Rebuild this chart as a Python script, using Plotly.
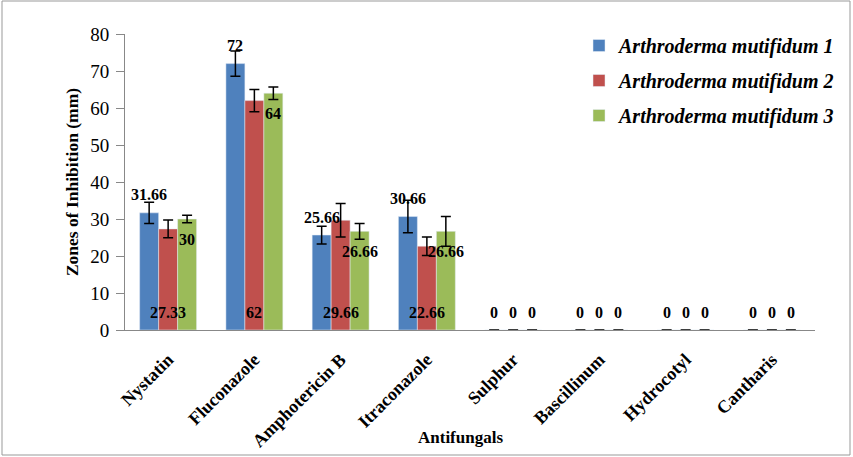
import plotly.graph_objects as go

categories = ["Nystatin", "Fluconazole", "Amphotericin B", "Itraconazole",
              "Sulphur", "Bascillinum", "Hydrocotyl", "Cantharis"]
series_names = ["Arthroderma mutifidum 1", "Arthroderma mutifidum 2", "Arthroderma mutifidum 3"]
values_1 = [31.66, 72, 25.66, 30.66, 0, 0, 0, 0]
values_2 = [27.33, 62, 29.66, 22.66, 0, 0, 0, 0]
values_3 = [30, 64, 26.66, 26.66, 0, 0, 0, 0]
errors_1 = [2.9, 3.4, 2.4, 4.4, 0, 0, 0, 0]
errors_2 = [2.4, 3.0, 4.5, 2.5, 0, 0, 0, 0]
errors_3 = [1.0, 1.7, 2.1, 4.0, 0, 0, 0, 0]
colors = ["#4F81BD", "#C0504D", "#9BBB59"]

W, H = 853, 457
ML, MR, MT, MB = 125, 38, 34, 127
pw, ph = W - ML - MR, H - MT - MB

fig = go.Figure()
for name, vals, errs, col in zip(series_names, [values_1, values_2, values_3],
                                 [errors_1, errors_2, errors_3], colors):
    fig.add_trace(go.Bar(
        x=categories, y=vals, name=name, marker_color=col,
        legendgroup=name,
        error_y=dict(type="data", array=errs, visible=True, color="black",
                     thickness=1.5, width=5),
    ))

serif = "'Liberation Serif', 'Times New Roman', serif"
lab_font = dict(family=serif, size=16, color="black", weight="bold")
annotations = []
bw = pw / len(categories) * (1 - 0.34) / 3
for i, c in enumerate(categories):
    # series 1: above bar
    annotations.append(dict(x=c, y=values_1[i], text=f"{values_1[i]:g}",
                            xshift=-bw, yshift=18, yanchor="middle", showarrow=False, font=lab_font))
    # series 2: near base
    annotations.append(dict(x=c, y=0, text=f"{values_2[i]:g}",
                            xshift=0, yshift=18, yanchor="middle", showarrow=False, font=lab_font))
    # series 3: inside end
    v = values_3[i]
    annotations.append(dict(x=c, y=v, text=f"{v:g}",
                            xshift=bw, yshift=(-20 if v > 0 else 18), yanchor="middle",
                            showarrow=False, font=lab_font))

# x-axis title
annotations.append(dict(xref="paper", yref="paper", x=(460 - ML) / pw, y=(MT + ph - 437) / ph,
                        text="Antifungals", showarrow=False, xanchor="center", yanchor="middle",
                        font=dict(family=serif, size=17, color="black", weight="bold")))

fig.update_layout(
    width=W, height=H,
    margin=dict(l=ML, r=MR, t=MT, b=MB, autoexpand=False),
    paper_bgcolor="white", plot_bgcolor="white",
    barmode="group", bargap=0.34, bargroupgap=0,
    font=dict(family=serif, size=17, color="black"),
    annotations=annotations,
    legend=dict(x=0.658, y=1.027, xanchor="left", yanchor="top",
                font=dict(family=serif, size=20, color="black", style="italic", weight="bold"),
                tracegroupgap=6, bgcolor="rgba(0,0,0,0)"),
    xaxis=dict(tickangle=-45, tickfont=dict(family=serif, size=18, weight="bold"),
               ticklabelstandoff=11,
               showline=True, linecolor="#888888", linewidth=1, ticks="", showgrid=False,
               automargin=False),
    yaxis=dict(title=dict(text="Zones of Inhibition (mm)", font=dict(family=serif, size=17.5, weight="bold"), standoff=7),
               range=[0, 80], dtick=10, tickfont=dict(family=serif, size=19),
               showline=True, linecolor="#888888", linewidth=1, ticks="outside", ticklen=8,
               ticklabelstandoff=3,
               tickcolor="#888888", showgrid=False, zeroline=False, automargin=False),
    shapes=[dict(type="rect", xref="paper", yref="paper",
                 x0=(2 - ML) / pw, x1=(W - 3 - ML) / pw,
                 y0=(MT + ph - (H - 2)) / ph, y1=(MT + ph - 1) / ph,
                 line=dict(color="#999999", width=1))],
)
fig.write_html("out.html", config={"displayModeBar": False},
               post_script="document.body.style.margin='0';")
